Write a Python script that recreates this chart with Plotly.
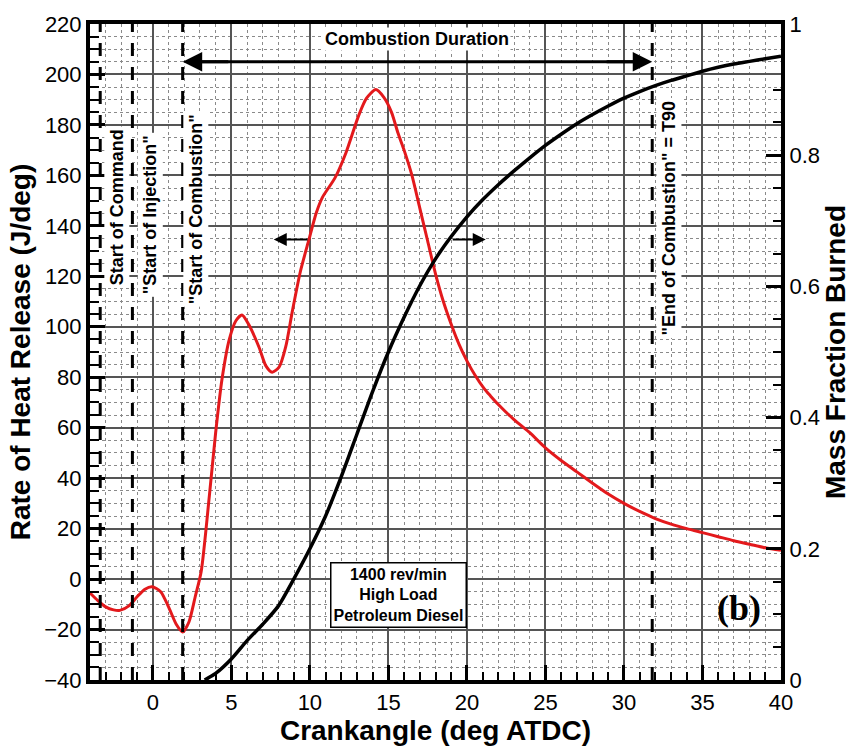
import plotly.graph_objects as go

# ---------------- data ----------------
crank_rohr = [-4.0, -3.5, -3.0, -2.5, -2.1, -1.5, -1.0, -0.5, -0.06, 0.5, 1.0, 1.5, 1.9,
              2.3, 2.7, 3.08, 3.6, 4.0, 4.4, 4.87, 5.3, 5.68, 6.1, 6.77, 7.2, 7.6, 8.04,
              8.46, 8.88, 9.4, 9.94, 10.4, 10.8, 11.6, 12.3, 13.1, 13.6, 14.2, 14.7,
              15.2, 15.6, 16.0, 16.5, 17.0, 17.5, 18.0, 18.5, 19.0, 19.5, 20.0, 20.5,
              21.1, 21.5, 22.0, 23.0, 24.0, 25.0, 26.0, 27.0, 28.0, 29.0, 30.0, 31.0,
              32.0, 33.0, 34.0, 35.0, 36.0, 37.0, 38.0, 39.0, 40.0]
rohr = [-5.5, -8.5, -11.0, -12.2, -12.4, -10.5, -7.0, -4.0, -3.0, -5.0, -11.0, -18.0, -21.0,
        -17.0, -7.0, 3.0, 33.0, 58.0, 79.0, 95.0, 102.5, 104.7, 101.0, 91.8, 84.5, 82.0, 84.0,
        92.0, 106.0, 122.0, 134.5, 145.0, 151.3, 159.0, 169.0, 183.6, 190.5, 194.0, 191.0,
        185.0, 177.0, 170.0, 160.0, 147.0, 134.0, 121.0, 110.0, 101.0, 93.0, 86.5, 81.0,
        75.5, 72.6, 69.2, 63.2, 58.0, 52.0, 47.0, 42.5, 38.0, 33.7, 30.0, 26.8,
        24.0, 21.8, 20.0, 18.4, 16.8, 15.2, 13.8, 12.4, 11.4]

crank_mfb = [3.3, 4.0, 5.0, 6.0, 7.0, 8.0, 9.0, 10.0, 11.0, 12.0, 13.0, 14.0, 15.0, 16.0,
             17.0, 18.0, 19.0, 20.0, 21.0, 22.0, 23.0, 24.0, 25.0, 26.0, 27.0, 28.0, 29.0,
             30.0, 31.0, 32.0, 33.0, 34.0, 35.0, 36.0, 37.0, 38.0, 39.0, 40.0]
mfb = [0.0, 0.01, 0.032, 0.06, 0.085, 0.113, 0.155, 0.2, 0.25, 0.31, 0.375, 0.44, 0.5, 0.553,
       0.601, 0.642, 0.676, 0.706, 0.732, 0.755, 0.776, 0.796, 0.815, 0.832, 0.848, 0.862, 0.875,
       0.887, 0.897, 0.906, 0.914, 0.921, 0.928, 0.934, 0.939, 0.943, 0.947, 0.951]

event_crank = [-3.35, -1.3, 1.9, 31.8]
event_labels = ["Start of Command", '"Start of Injection"', '"Start of Combustion"',
                '"End of Combustion" = T90']
duration_label = "Combustion Duration"
condition_label = "1400 rev/min<br>High Load<br>Petroleum Diesel"
panel_label = "(b)"

FONT = "Liberation Sans, Arial, sans-serif"

fig = go.Figure()
fig.add_trace(go.Scatter(x=crank_rohr, y=rohr, mode="lines",
                         line=dict(color="#e3191c", width=3, shape="spline", smoothing=0.7),
                         yaxis="y", showlegend=False, hoverinfo="skip"))
fig.add_trace(go.Scatter(x=crank_mfb, y=mfb, mode="lines",
                         line=dict(color="black", width=3.5, shape="spline", smoothing=0.7),
                         yaxis="y2", showlegend=False, hoverinfo="skip"))

# dashed event lines
for xc in event_crank:
    fig.add_shape(type="line", xref="x", yref="paper", x0=xc, x1=xc, y0=0, y1=1,
                  line=dict(color="black", width=3, dash="13px,11px"), layer="above")

# vertical event labels
label_pos = [(-2.28, 147.4), (-0.16, 144.3), (2.75, 146.6), (32.85, 143.2)]
for (lx, ly), txt in zip(label_pos, event_labels):
    fig.add_annotation(x=lx, y=ly, xref="x", yref="y", text="<b>%s</b>" % txt,
                       textangle=-90, showarrow=False, bgcolor="white", borderpad=2,
                       font=dict(family=FONT, size=18, color="black"))

# combustion duration double arrow
fig.add_shape(type="line", xref="x", yref="y", x0=event_crank[2] + 0.8, x1=event_crank[3] - 0.8,
              y0=205, y1=205, line=dict(color="black", width=3), layer="above")
for head, tail in ((event_crank[2], event_crank[2] + 3), (event_crank[3], event_crank[3] - 3)):
    fig.add_annotation(x=head, y=205, ax=tail, ay=205, xref="x", yref="y", axref="x", ayref="y",
                       text="", showarrow=True, arrowhead=2, arrowsize=1.3, arrowwidth=3,
                       arrowcolor="black")
fig.add_annotation(x=(event_crank[2] + event_crank[3]) / 2, y=214, xref="x", yref="y",
                   text="<b>%s</b>" % duration_label,
                   showarrow=False, bgcolor="white", borderpad=1,
                   font=dict(family=FONT, size=18, color="black"))

# curve pointer arrows
fig.add_annotation(x=7.7, y=134.6, ax=9.95, ay=134.6, xref="x", yref="y", axref="x", ayref="y",
                   text="", showarrow=True, arrowhead=2, arrowsize=1.3, arrowwidth=2,
                   arrowcolor="black")
fig.add_annotation(x=21.2, y=134.6, ax=19.0, ay=134.6, xref="x", yref="y", axref="x", ayref="y",
                   text="", showarrow=True, arrowhead=2, arrowsize=1.3, arrowwidth=2,
                   arrowcolor="black")

# condition box
fig.add_annotation(x=15.63, y=-6.2, xref="x", yref="y", text="<b>%s</b>" % condition_label,
                   showarrow=False, bgcolor="white", bordercolor="black", borderwidth=1.5,
                   borderpad=2, font=dict(family=FONT, size=16, color="black"))

# panel label
fig.add_annotation(x=37.3, y=-11.3, xref="x", yref="y", text="<b>%s</b>" % panel_label,
                   showarrow=False,
                   font=dict(family="Liberation Serif, Times New Roman, serif", size=36,
                             color="black"))

axis_common = dict(showline=True, linecolor="black", linewidth=4, ticks="inside",
                   tickcolor="black", tickwidth=3, ticklen=15,
                   tickfont=dict(family=FONT, size=22, color="black"), zeroline=False)

fig.update_layout(
    width=858, height=747,
    margin=dict(l=90, r=72, t=23, b=54),
    paper_bgcolor="white", plot_bgcolor="white",
    showlegend=False,
    xaxis=dict(range=[-4, 40], dtick=5, tick0=0, mirror=True,
               showgrid=True, gridcolor="#555555", gridwidth=1.5,
               minor=dict(dtick=1, tick0=0, ticks="inside", ticklen=8, tickwidth=2,
                          tickcolor="black", showgrid=True, gridcolor="#8a8a8a",
                          gridwidth=1, griddash="dot"),
               title=dict(text="<b>Crankangle (deg ATDC)</b>",
                          font=dict(family=FONT, size=28, color="black"), standoff=0),
               **axis_common),
    yaxis=dict(range=[-40, 220], dtick=20, tick0=0, mirror=True,
               showgrid=True, gridcolor="#555555", gridwidth=1.5,
               minor=dict(dtick=5, tick0=0, ticks="inside", ticklen=9, tickwidth=2,
                          tickcolor="black", showgrid=True, gridcolor="#8a8a8a",
                          gridwidth=1, griddash="dot"),
               title=dict(text="<b>Rate of Heat Release (J/deg)</b>",
                          font=dict(family=FONT, size=28, color="black"), standoff=6),
               **axis_common),
    yaxis2=dict(range=[0, 1], dtick=0.2, tick0=0, overlaying="y", side="right",
                showgrid=False,
                minor=dict(dtick=0.05, tick0=0, ticks="inside", ticklen=8, tickwidth=2,
                           tickcolor="black", showgrid=False),
                title=dict(text="<b>Mass Fraction Burned</b>",
                           font=dict(family=FONT, size=28, color="black"), standoff=6),
                **axis_common),
)

fig.write_html("out.html")
